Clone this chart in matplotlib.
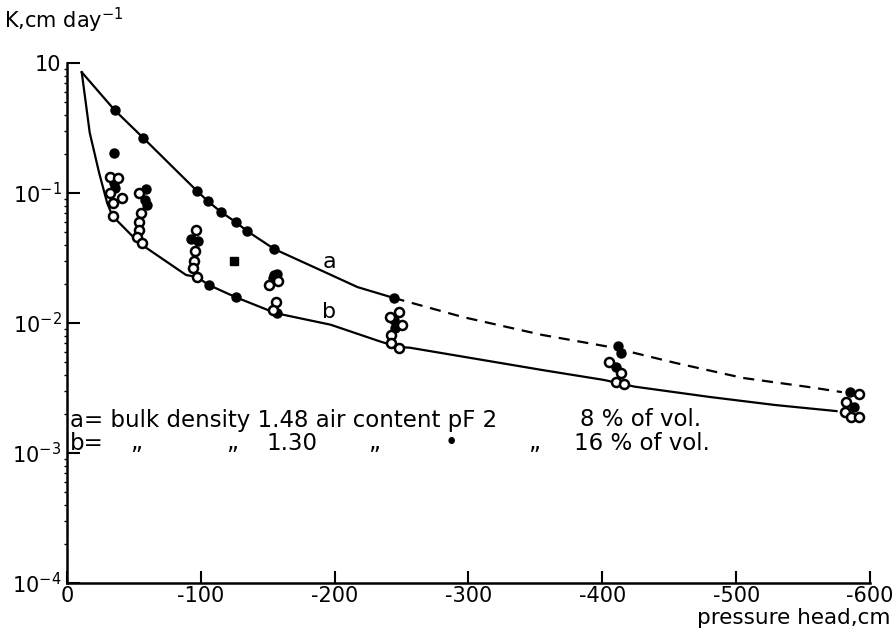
import numpy as np
import matplotlib
matplotlib.use("Agg")
from matplotlib import pyplot as plt
from matplotlib.ticker import FixedLocator, LogLocator, NullFormatter

# curve a (bulk density 1.48), pressure head cm / K cm day-1
a_h = [-11, -35.5, -57, -97, -105, -115, -126, -134.5, -155, -197, -217, -244]
a_k = [0.85, 0.435, 0.265, 0.104, 0.087, 0.0715, 0.0598, 0.051, 0.037, 0.0235, 0.0189, 0.0156]
a_dash_h = [-244, -296, -355, -406, -455, -505, -554, -579]
a_dash_k = [0.0156, 0.0111, 0.0081, 0.00653, 0.00492, 0.00378, 0.00322, 0.00294]

# curve b (bulk density 1.30)
b_h = [-11, -17, -24, -30, -34, -54, -89, -97, -106, -126, -156, -197, -235, -248,
       -256, -355, -401, -424, -480, -529, -575]
b_k = [0.85, 0.29, 0.143, 0.0838, 0.0665, 0.0412, 0.0234, 0.0226, 0.0196, 0.0158,
       0.0119, 0.0097, 0.00715, 0.00653, 0.00646, 0.00435, 0.00365, 0.00324,
       0.0027, 0.00234, 0.0021]

# measured points, filled markers
full_h = [-35.5, -57, -97, -105, -115, -126, -134.5, -155, -244,
          -35, -35, -36, -59, -58, -60, -93, -98,
          -155, -157, -154, -157, -244, -245,
          -412, -414, -410, -585, -588,
          -106, -126]
full_k = [0.435, 0.265, 0.104, 0.087, 0.0715, 0.0598, 0.051, 0.037, 0.0156,
          0.203, 0.12, 0.11, 0.107, 0.088, 0.081, 0.044, 0.043,
          0.0235, 0.024, 0.022, 0.012, 0.0105, 0.0092,
          0.0066, 0.0059, 0.0046, 0.00295, 0.00226,
          0.0196, 0.0158]

# measured points, open markers
open_h = [-32, -38, -32, -41, -34, -34,
          -54, -55, -54, -54, -52, -56,
          -96.5, -96, -95, -94.5, -97,
          -151, -158, -156, -154,
          -248, -241, -250, -242, -242, -248,
          -405, -414, -410, -416,
          -592, -582, -581, -586, -592]
open_k = [0.133, 0.13, 0.10, 0.092, 0.084, 0.066,
          0.10, 0.07, 0.06, 0.052, 0.046, 0.041,
          0.052, 0.036, 0.030, 0.0265, 0.0226,
          0.0196, 0.021, 0.0145, 0.0126,
          0.0122, 0.0111, 0.0097, 0.0081, 0.0070, 0.0064,
          0.0050, 0.0041, 0.0035, 0.0034,
          0.00284, 0.00247, 0.00207, 0.00189, 0.00189]

# single square marker
sq_h = [-125]
sq_k = [0.030]

x_ticks = [0, -100, -200, -300, -400, -500, -600]
x_labels = ['0', '-100', '-200', '-300', '-400', '-500', '-600']
y_ticks = [1e0, 1e-1, 1e-2, 1e-3, 1e-4]
y_labels = ['10', '10$^{-1}$', '10$^{-2}$', '10$^{-3}$', '10$^{-4}$']

# key text pieces as placed in the original (x in pixels)
key_a = [('a= bulk density 1.48 air content pF 2', 70), ('8 % of vol.', 580)]
key_b = [('b=', 70), ('\u201e', 130), ('\u201e', 226), ('1.30', 266), ('\u201e', 368),
         ('\u2022', 445), ('\u201e', 528), ('16 % of vol.', 574)]

plt.rcParams['font.family'] = ['DejaVu Sans']
plt.rcParams['mathtext.fontset'] = 'dejavusans'

W, H = 895, 636
fig = plt.figure(figsize=(W / 100, H / 100), dpi=100)
ax = fig.add_axes([67 / W, 1 - 583 / H, (870 - 67) / W, (583 - 63) / H])

ax.plot(a_h, a_k, color='black', lw=1.6)
ax.plot(a_dash_h, a_dash_k, color='black', lw=1.6, dashes=(5, 3.5))
ax.plot(b_h, b_k, color='black', lw=1.6)

ax.plot(full_h, full_k, 'o', ms=6.5, mfc='black', mec='black', ls='none')
ax.plot(open_h, open_k, 'o', ms=6.5, mfc='white', mec='black', mew=1.8, ls='none')
ax.plot(sq_h, sq_k, 's', ms=6, mfc='black', mec='black', ls='none')

ax.set_yscale('log')
ax.set_xlim(0, -600)
ax.set_ylim(1e-4, 1e0)

ax.spines['top'].set_visible(False)
ax.spines['right'].set_visible(False)
ax.spines['left'].set_linewidth(1.8)
ax.spines['bottom'].set_linewidth(1.8)

ax.xaxis.set_major_locator(FixedLocator(x_ticks))
ax.set_xticklabels(x_labels)
ax.yaxis.set_major_locator(FixedLocator(y_ticks))
ax.set_yticklabels(y_labels)
ax.yaxis.set_minor_locator(LogLocator(base=10, subs=np.arange(2, 10)))
ax.yaxis.set_minor_formatter(NullFormatter())

ax.tick_params(axis='both', which='major', direction='in', length=9, width=1.5,
               labelsize=15, pad=4)
ax.tick_params(axis='y', which='minor', direction='out', length=2, width=1)
ax.tick_params(axis='x', which='major', pad=2)

ax.text(-196, 10 ** -1.53, 'a', fontsize=16, ha='center', va='center')
ax.text(-196, 10 ** -1.915, 'b', fontsize=16, ha='center', va='center')

for txt, px in key_a:
    fig.text(px / W, 1 - 420 / H, txt, fontsize=16.5, ha='left', va='center')
for txt, px in key_b:
    fig.text(px / W, 1 - 443 / H, txt, fontsize=16.5, ha='left', va='center')

fig.text(0.005, 0.968, 'K,cm day$^{-1}$', fontsize=15, ha='left', va='center')
fig.text(0.995, 0.012, 'pressure head,cm', fontsize=15.5, ha='right', va='bottom')

fig.savefig('out.png', dpi=100)
